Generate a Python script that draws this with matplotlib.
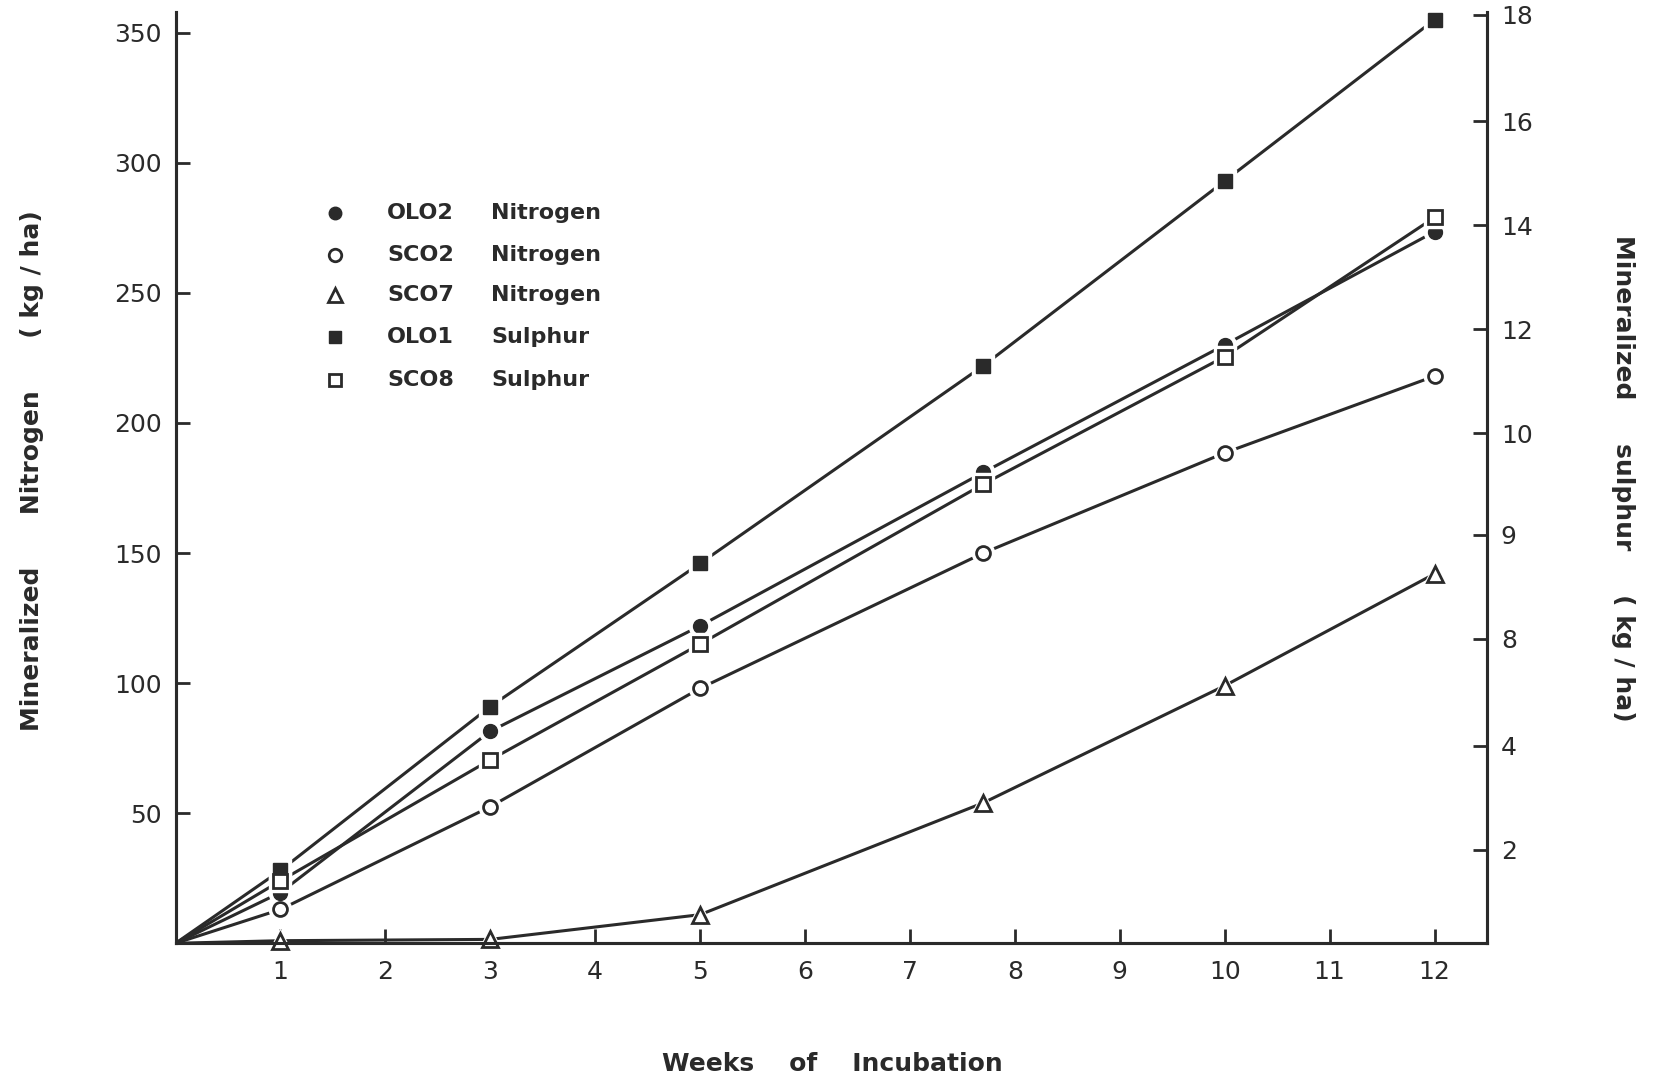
import matplotlib
matplotlib.use("Agg")
import matplotlib.pyplot as plt

# weeks of incubation (origin included, no marker drawn there)
weeks = [0, 1, 3, 5, 7.7, 10, 12]

# mineralized nitrogen, kg/ha (left axis)
ol02_n = [0, 19.5, 81.5, 122, 181, 230, 273.5]
sc02_n = [0, 13, 52.5, 98, 150, 188.5, 218]
sc07_n = [0, 1, 1.5, 11, 54, 99, 142]

# mineralized sulphur, in the plotted height of the right-hand scale
ol01_s = [0, 28, 91, 146, 222, 293, 355]
sc08_s = [0, 24, 70.5, 115, 176.5, 225.5, 279]

x_ticks = list(range(1, 13))
n_ticks = [50, 100, 150, 200, 250, 300, 350]
s_tick_labels = ["2", "4", "8", "9", "10", "12", "14", "16", "18"]
s_tick_pos = [36, 76, 117, 157, 196, 236, 276, 316, 357]

INK = "#2a2a2a"
plt.rcParams["font.family"] = ["DejaVu Sans"]

fig = plt.figure(figsize=(16.59, 10.83), dpi=100)
ax = fig.add_axes([0.1058, 0.129, 0.7905, 0.86])
ax2 = ax.twinx()

ax.set_xlim(0, 12.5)
ax.set_ylim(0, 358)
ax2.set_ylim(0, 358)

# drawing order: squares first so the filled circle sits on top
series = [
    (ax2, ol01_s, dict(marker="s", ms=10, mfc=INK, mec=INK)),
    (ax2, sc08_s, dict(marker="s", ms=9.5, mfc="white", mec=INK, mew=2)),
    (ax, sc07_n, dict(marker="^", ms=11, mfc="white", mec=INK, mew=2)),
    (ax, sc02_n, dict(marker="o", ms=10, mfc="white", mec=INK, mew=2)),
    (ax, ol02_n, dict(marker="o", ms=10, mfc=INK, mec=INK)),
]

for a, ys, _ in series:
    a.plot(weeks, ys, color=INK, lw=2.2, solid_capstyle="round", zorder=2)
for a, ys, st in series:
    a.plot(weeks[1:], ys[1:], ls="none", marker=st["marker"], ms=st["ms"] + 6,
           mfc="white", mec="white", zorder=3, clip_on=False)
for a, ys, st in series:
    a.plot(weeks[1:], ys[1:], ls="none", zorder=4, clip_on=False, **st)

# spines and ticks
for a in (ax, ax2):
    a.spines["top"].set_visible(False)
    for s in a.spines.values():
        s.set_linewidth(2.2)
        s.set_color(INK)

ax.set_xticks(x_ticks)
ax.set_xticklabels([str(v) for v in x_ticks])
ax.set_yticks(n_ticks)
ax.set_yticklabels([str(v) for v in n_ticks])
ax.tick_params(axis="both", direction="in", length=10, width=2, color=INK,
               labelsize=18, labelcolor=INK)
ax.tick_params(axis="x", pad=12)
ax.tick_params(axis="y", pad=10)

ax2.set_yticks(s_tick_pos)
ax2.set_yticklabels(s_tick_labels)
ax2.tick_params(axis="y", direction="in", length=10, width=2, color=INK,
                labelsize=18, labelcolor=INK, pad=10)

# axis titles
title_kw = dict(fontsize=18, fontweight="bold", color=INK)
fig.text(0.0195, 0.565, "Mineralized      Nitrogen      ( kg / ha)", rotation=90,
         ha="center", va="center", **title_kw)
fig.text(0.978, 0.558, "Mineralized     sulphur     ( kg / ha)", rotation=-90,
         ha="center", va="center", **title_kw)
fig.text(0.502, 0.018, "Weeks    of    Incubation", ha="center", va="center",
         **title_kw)

# hand-lettered key
key_rows = [
    ("OLO2", "Nitrogen", series[4][2]),
    ("SCO2", "Nitrogen", series[3][2]),
    ("SCO7", "Nitrogen", series[2][2]),
    ("OLO1", "Sulphur", series[0][2]),
    ("SCO8", "Sulphur", series[1][2]),
]
key_y = [213, 255, 295, 337, 380]
for (code, elem, st), py in zip(key_rows, key_y):
    fy = 1 - py / 1083
    st_k = dict(st)
    st_k["ms"] = st["ms"] - 1
    fig.add_artist(plt.Line2D([335 / 1659], [fy], transform=fig.transFigure,
                              ls="none", **st_k))
    fig.text(387 / 1659, fy, code, ha="left", va="center", fontsize=16,
             fontweight="bold", color=INK)
    fig.text(491 / 1659, fy, elem, ha="left", va="center", fontsize=16,
             fontweight="bold", color=INK)

fig.savefig("out.png", dpi=100)
